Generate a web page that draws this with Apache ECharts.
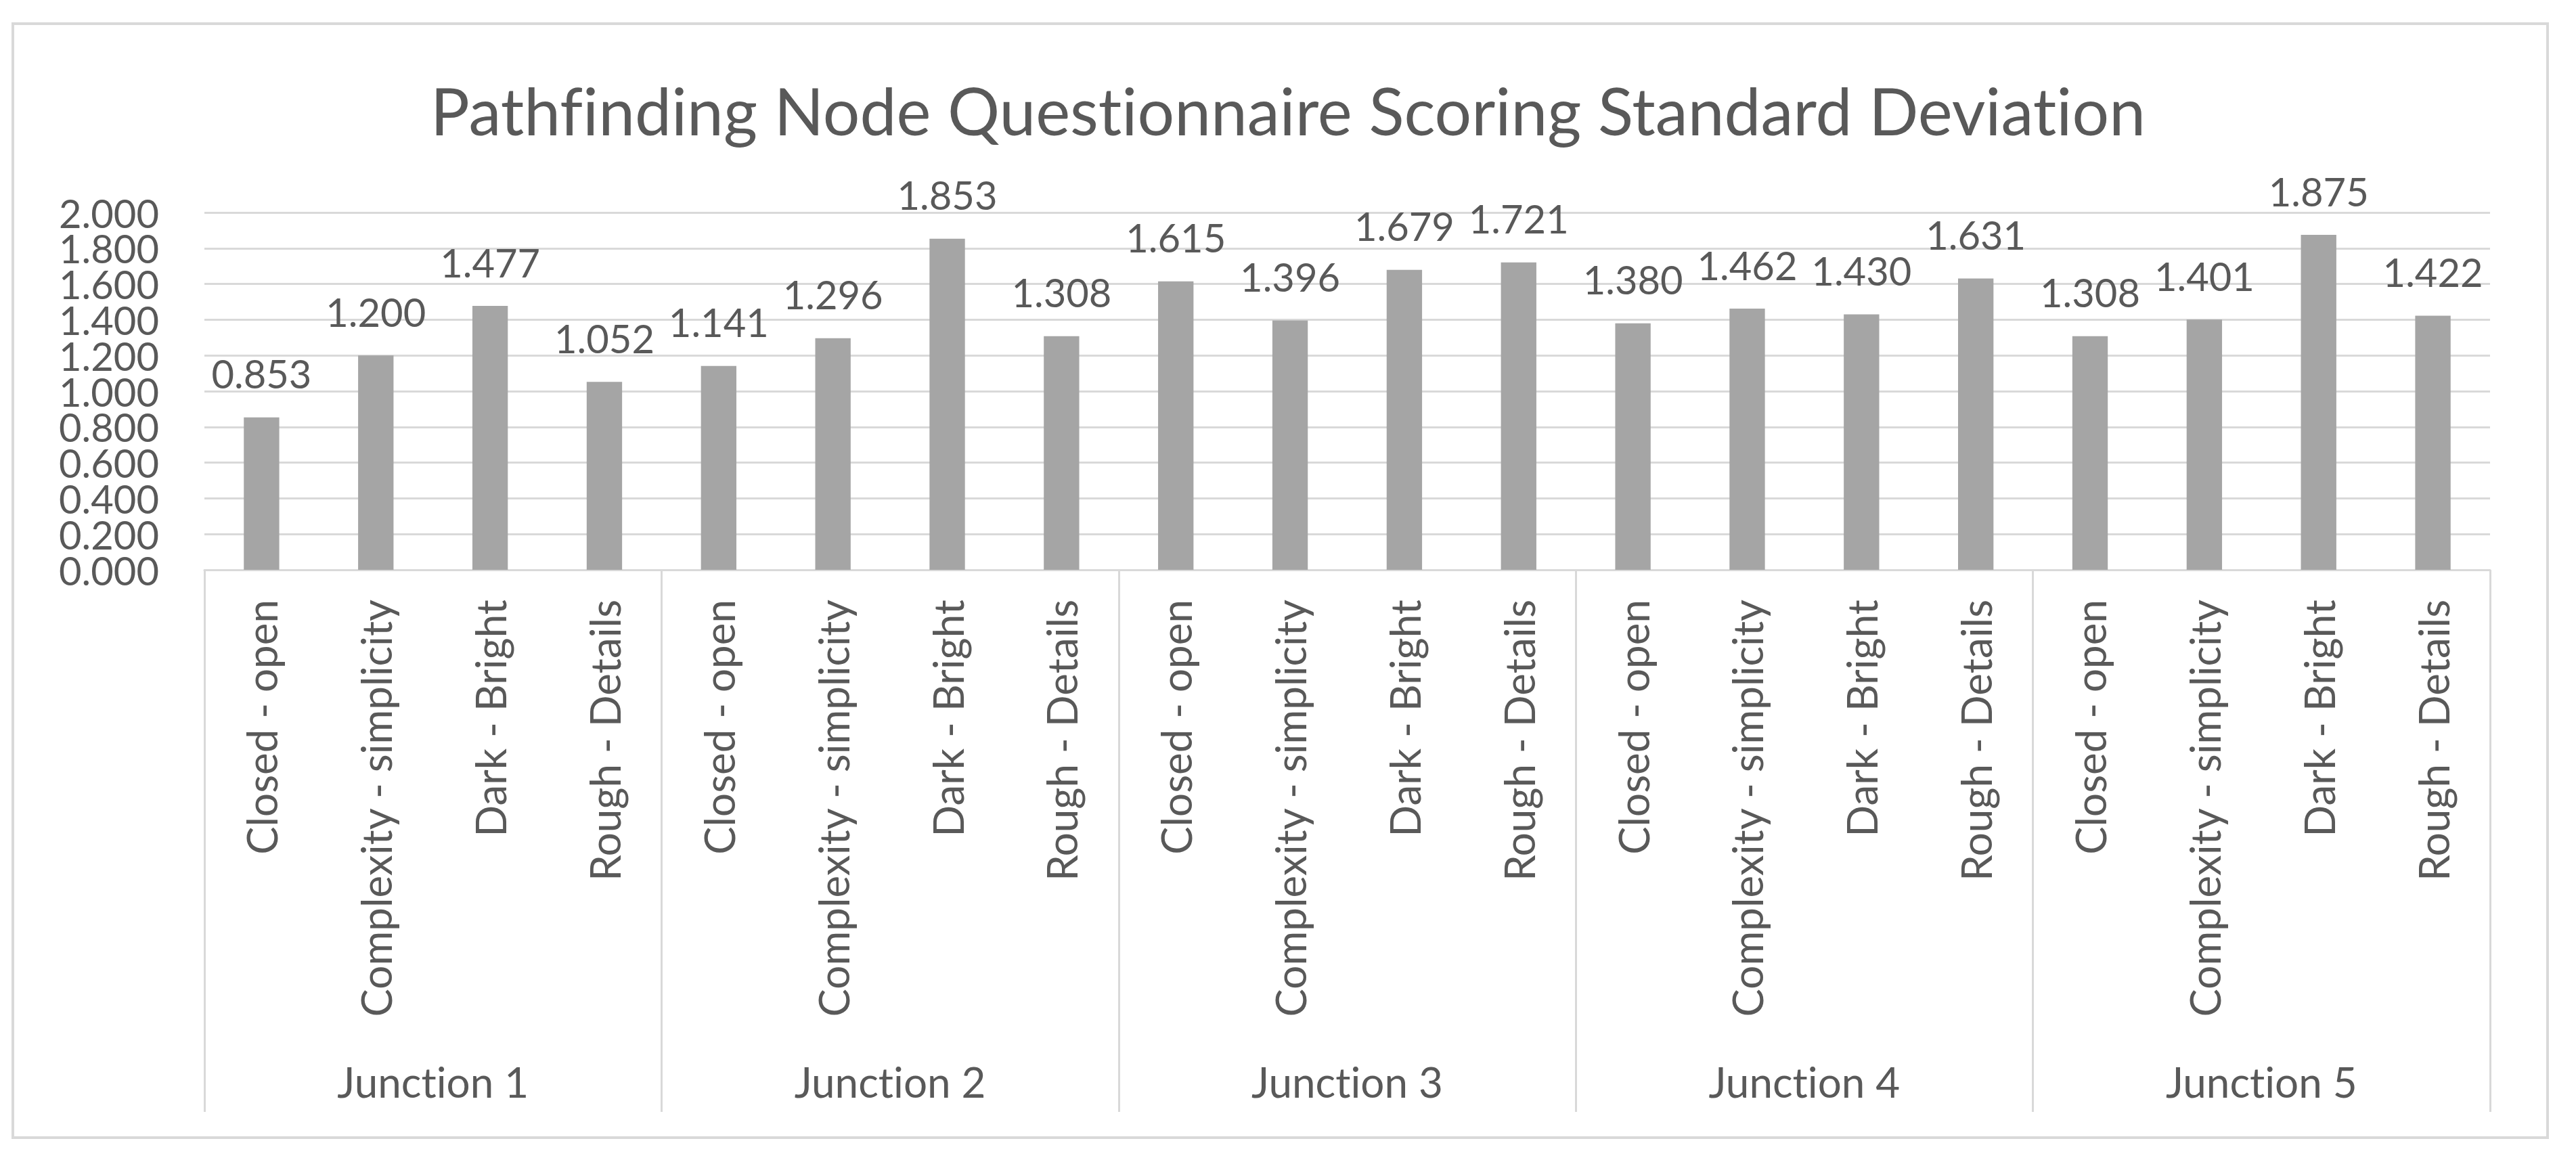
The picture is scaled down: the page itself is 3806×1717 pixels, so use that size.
<!DOCTYPE html>
<html>
<head>
<meta charset="utf-8">
<script src="https://cdn.jsdelivr.net/npm/echarts@6/dist/echarts.min.js"></script>
<style>
  html, body { margin: 0; padding: 0; background: #ffffff; }
  #chart { width: 3806px; height: 1717px; }
  #chart text { font-variant-ligatures: none; font-feature-settings: "liga" 0, "clig" 0; }
</style>
</head>
<body>
<div id="chart"></div>
<script>
// ---- Data ----
const chartTitle = 'Pathfinding Node Questionnaire Scoring Standard Deviation';
const junctions = ['Junction 1', 'Junction 2', 'Junction 3', 'Junction 4', 'Junction 5'];
const attributes = ['Closed - open', 'Complexity - simplicity', 'Dark - Bright', 'Rough - Details'];
const junction1 = [0.853, 1.200, 1.477, 1.052];
const junction2 = [1.141, 1.296, 1.853, 1.308];
const junction3 = [1.615, 1.396, 1.679, 1.721];
const junction4 = [1.380, 1.462, 1.430, 1.631];
const junction5 = [1.308, 1.401, 1.875, 1.422];
const yTicks = [0, 0.2, 0.4, 0.6, 0.8, 1.0, 1.2, 1.4, 1.6, 1.8, 2.0];

// ---- Build ----
const groups = [junction1, junction2, junction3, junction4, junction5];
const categories = [];
const values = [];
groups.forEach(g => { attributes.forEach((a, i) => { categories.push(a); values.push(g[i]); }); });

const FONT = 'Lato';
const TXT = '#595959';
const LINE = '#d9d9d9';

const cv = document.createElement('canvas').getContext('2d');
function fit(text, target) {
  cv.font = '100px ' + FONT;
  return Math.round(target / cv.measureText(text).width * 1000) / 10;
}
const titleSize = fit(chartTitle, 2536);
const catSize = fit('Complexity - simplicity', 618);
const numSize = fit('0.853', 148);
const grpSize = fit('Junction 1', 284);

const chart = echarts.init(document.getElementById('chart'), null, { renderer: 'svg' });
const option = {
  backgroundColor: '#ffffff',
  animation: false,
  title: {
    text: chartTitle,
    left: 'center',
    top: 110,
    textStyle: { fontFamily: FONT, fontWeight: 'normal', fontSize: titleSize, color: TXT }
  },
  grid: { left: 302, right: 127, top: 314, bottom: 875, containLabel: false },
  xAxis: [
    {
      type: 'category',
      data: categories,
      position: 'bottom',
      axisLine: { show: true, lineStyle: { color: LINE, width: 3 } },
      axisTick: { show: false },
      axisLabel: { interval: 0, rotate: 90, margin: 44, fontFamily: FONT, fontSize: catSize, color: TXT }
    },
    {
      type: 'category',
      data: junctions,
      position: 'bottom',
      axisLine: { show: false },
      axisTick: { show: true, length: 801, lineStyle: { color: LINE, width: 3 } },
      axisLabel: { interval: 0, margin: 725, fontFamily: FONT, fontSize: grpSize, color: TXT }
    }
  ],
  yAxis: [
    {
      type: 'value',
      min: yTicks[0],
      max: yTicks[yTicks.length - 1],
      interval: 0.2,
      axisLine: { show: false },
      axisTick: { show: false },
      splitLine: { show: true, lineStyle: { color: LINE, width: 3 } },
      axisLabel: { show: false }
    },
    {
      type: 'category',
      data: yTicks.map(v => v.toFixed(3)),
      boundaryGap: false,
      position: 'left',
      axisLine: { show: false },
      axisTick: { show: false },
      splitLine: { show: false },
      axisLabel: { interval: 0, margin: 67, fontFamily: FONT, fontSize: numSize, lineHeight: 50, color: TXT }
    }
  ],
  series: [{
    type: 'bar',
    xAxisIndex: 0,
    yAxisIndex: 0,
    data: values,
    barWidth: '31%',
    itemStyle: { color: '#a5a5a5' },
    label: {
      show: true, position: 'top', distance: 36,
      fontFamily: FONT, fontSize: numSize, color: TXT,
      formatter: p => p.value.toFixed(3)
    }
  }],
  graphic: [{
    type: 'rect',
    shape: { x: 19, y: 35, width: 3745, height: 1646 },
    style: { fill: 'none', stroke: LINE, lineWidth: 4 },
    silent: true
  }]
};
chart.setOption(option);
</script>
</body>
</html>
